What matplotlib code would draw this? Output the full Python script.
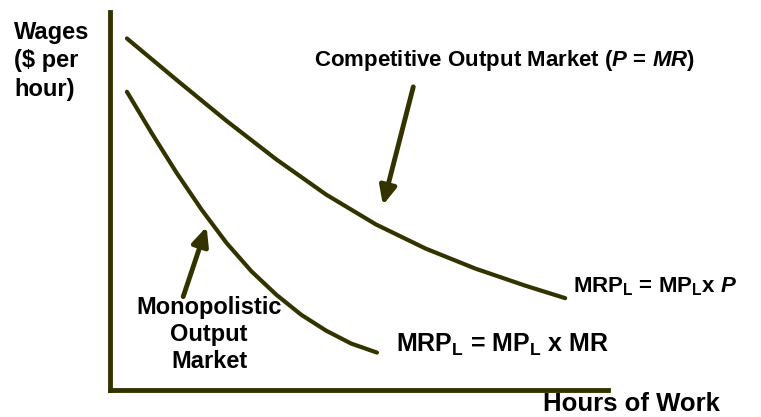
import matplotlib
matplotlib.use("Agg")
import matplotlib.pyplot as plt

# curve points (hours, wage), arbitrary units 0-10
comp_x = [0.34, 1.34, 2.34, 3.34, 4.34, 5.34, 6.34, 7.34, 8.34, 9.14]
comp_y = [9.30, 8.20, 7.12, 6.10, 5.17, 4.38, 3.74, 3.21, 2.76, 2.43]

mono_x = [0.34, 0.84, 1.34, 1.84, 2.34, 2.84, 3.34, 3.84, 4.34, 4.84, 5.36]
mono_y = [7.89, 6.79, 5.74, 4.77, 3.89, 3.14, 2.52, 1.99, 1.57, 1.23, 0.99]

# arrows: (start, tip)
comp_arrow = [(6.09, 8.02), (5.48, 4.89)]
mono_arrow = [(1.47, 2.47), (1.94, 4.32)]

ink = '#333300'

plt.rcParams['font.family'] = ['Liberation Sans', 'DejaVu Sans']
plt.rcParams['font.weight'] = 'bold'
plt.rcParams['mathtext.fontset'] = 'custom'
plt.rcParams['mathtext.rm'] = 'Liberation Sans:bold'
plt.rcParams['mathtext.it'] = 'Liberation Sans:bold:italic'
plt.rcParams['mathtext.bf'] = 'Liberation Sans:bold'

W, H = 761, 417
fig = plt.figure(figsize=(W / 100, H / 100), dpi=100)
ax = fig.add_axes([110 / W, 27 / H, 498 / W, 378 / H])
ax.set_xlim(0, 10)
ax.set_ylim(0, 10)
ax.set_xticks([])
ax.set_yticks([])
for s in ['top', 'right']:
    ax.spines[s].set_visible(False)
for s in ['left', 'bottom']:
    ax.spines[s].set_color(ink)
    ax.spines[s].set_linewidth(3.5)
ax.patch.set_alpha(0)

ax.plot(comp_x, comp_y, color=ink, lw=3, solid_capstyle='round', solid_joinstyle='round')
ax.plot(mono_x, mono_y, color=ink, lw=3, solid_capstyle='round', solid_joinstyle='round')

for start, tip in [comp_arrow, mono_arrow]:
    ax.annotate('', xy=tip, xytext=start,
                arrowprops=dict(arrowstyle='-|>,head_width=0.5,head_length=1.1',
                                color=ink, lw=3.5, shrinkA=0, shrinkB=0))

fig.text(14 / W, 1 - 21 / H, 'Wages\n($ per\nhour)', fontsize=17, fontweight='bold',
         ha='left', va='top', linespacing=1.3)
fig.text(720 / W, 1 - 404 / H, 'Hours of Work', fontsize=18.5, fontweight='bold',
         ha='right', va='center')

ax.text(7.92, 8.73, r'Competitive Output Market ($\mathit{P}$ = $\mathit{MR}$)',
        fontsize=16, ha='center', va='center')
ax.text(9.3, 2.72, r'MRP$_{\mathrm{L}}$ = MP$_{\mathrm{L}}$x $\mathit{P}$',
        fontsize=16, ha='left', va='center')
ax.text(5.74, 1.19, r'MRP$_{\mathrm{L}}$ = MP$_{\mathrm{L}}$ x MR',
        fontsize=18, ha='left', va='center')
ax.text(1.99, 1.48, 'Monopolistic\nOutput\nMarket', fontsize=17, ha='center',
        va='center', linespacing=1.22)

fig.savefig('out.png', dpi=100, facecolor='white')
